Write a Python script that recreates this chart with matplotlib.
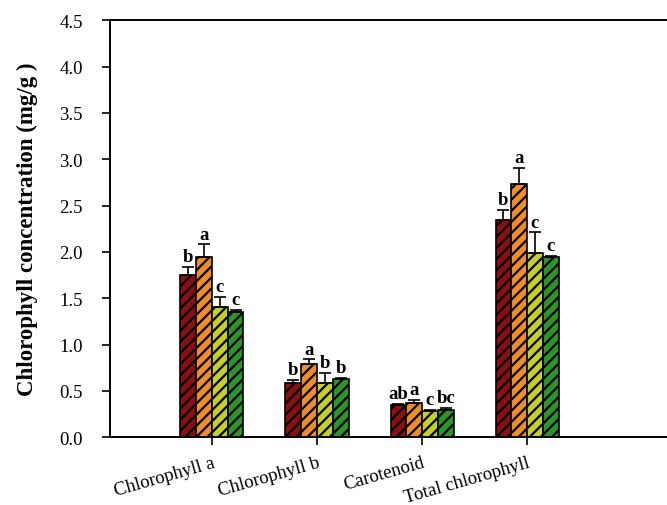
import numpy as np
import matplotlib
matplotlib.use("Agg")
import matplotlib.pyplot as plt

categories = ["Chlorophyll a", "Chlorophyll b", "Carotenoid", "Total chlorophyll"]

# mean values, one list per treatment
t1 = [1.75, 0.58, 0.35, 2.34]
t2 = [1.95, 0.79, 0.37, 2.73]
t3 = [1.41, 0.58, 0.28, 1.99]
t4 = [1.35, 0.63, 0.29, 1.95]

# upper error (SE)
e1 = [0.09, 0.04, 0.01, 0.11]
e2 = [0.13, 0.05, 0.03, 0.18]
e3 = [0.10, 0.11, 0.01, 0.22]
e4 = [0.02, 0.01, 0.03, 0.01]

# significance letters
l1 = ["b", "b", "ab", "b"]
l2 = ["a", "a", "a", "a"]
l3 = ["c", "b", "c", "c"]
l4 = ["c", "b", "bc", "c"]

colors = ["#8a0f10", "#f08c2a", "#c5cf2a", "#2b952b"]

plt.rcParams['font.family'] = ['Liberation Serif', 'DejaVu Serif']
plt.rcParams['hatch.linewidth'] = 1.6

fig = plt.figure(figsize=(6.67, 5.06), dpi=100)
ax = fig.add_axes([0.165, 0.134, 0.9, 0.824])

x = np.arange(len(categories))
w = 0.15
series = [(t1, e1, l1), (t2, e2, l2), (t3, e3, l3), (t4, e4, l4)]
for i, (vals, errs, letters) in enumerate(series):
    pos = x + (i - 1.5) * w
    ax.bar(pos, vals, w, color=colors[i], edgecolor='black', linewidth=1.2,
           hatch='///', zorder=2)
    ax.errorbar(pos, vals, yerr=[np.zeros(len(vals)), errs], fmt='none',
                ecolor='black', elinewidth=1.2, capsize=4.5, capthick=1.2, zorder=3)
    for p, v, e, t in zip(pos, vals, errs, letters):
        ax.text(p, v + e + 0.02, t, ha='center', va='bottom',
                fontsize=13.5, fontweight='bold')

ax.set_xlim(-0.97, -0.97 + 600 / 105)
ax.set_ylim(0, 4.5)
ax.set_yticks(np.arange(0, 4.51, 0.5))
ax.set_yticklabels(["%.1f" % v for v in np.arange(0, 4.51, 0.5)], fontsize=13.5)
ax.set_xticks(x)
ax.set_xticklabels(categories, rotation=16, ha='right', rotation_mode='anchor',
                   fontsize=13.5)
ax.tick_params(axis='y', direction='out', length=6, width=1.2, pad=13.5)
ax.tick_params(axis='x', direction='out', length=6, width=1.2, pad=6)
for s in ax.spines.values():
    s.set_linewidth(1.4)
ax.set_ylabel("Chlorophyll concentration (mg/g )", fontsize=16.5, fontweight='bold',
              labelpad=15.5)

fig.savefig("out.png", dpi=100)
